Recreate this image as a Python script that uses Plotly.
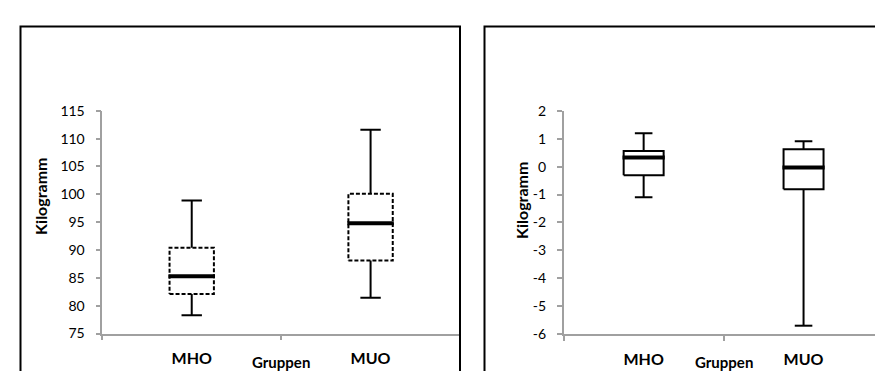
import plotly.graph_objects as go

# ---------------- data ----------------
groups = ["MHO", "MUO"]

# left panel: Kilogramm
w_min = [78.3, 81.4]
w_q1 = [82.1, 88.1]
w_med = [85.3, 94.8]
w_q3 = [90.4, 100.1]
w_max = [98.9, 111.6]
w_ticks = [75, 80, 85, 90, 95, 100, 105, 110, 115]

# right panel: Kilogramm (change)
d_min = [-1.1, -5.7]
d_q1 = [-0.31, -0.81]
d_med = [0.33, -0.03]
d_q3 = [0.56, 0.62]
d_max = [1.2, 0.91]
d_ticks = [-6, -5, -4, -3, -2, -1, 0, 1, 2]
d_tick_labels = ["-6", "-5", "-4", "-3", "-2", "-1", "0", "1", "2"]

y_title = "Kilogramm"
x_title = "Gruppen"

# ---------------- helpers ----------------
W, H = 883, 371
FONT = "Lato"
AX = "#A0A0A0"


def px(x):
    return x / W


def py(y):
    return 1 - y / H


def box_traces(mins, q1, med, q3, maxs, xaxis, yaxis, dash, half=0.124, cap=0.057, mhalf=0.13):
    traces = []
    n = len(groups)
    wx, wy, cx, cy, bx, by, mx, my = [], [], [], [], [], [], [], []
    for i in range(n):
        wx += [i, i, None, i, i, None]
        wy += [q3[i], maxs[i], None, q1[i], mins[i], None]
        cx += [i - cap, i + cap, None, i - cap, i + cap, None]
        cy += [maxs[i], maxs[i], None, mins[i], mins[i], None]
        bx += [i - half, i + half, i + half, i - half, i - half, None]
        by += [q1[i], q1[i], q3[i], q3[i], q1[i], None]
        mx += [i - mhalf, i + mhalf, None]
        my += [med[i], med[i], None]
    common = dict(mode="lines", xaxis=xaxis, yaxis=yaxis, hoverinfo="skip", showlegend=False)
    traces.append(go.Scatter(x=wx, y=wy, line=dict(color="black", width=2), **common))
    traces.append(go.Scatter(x=cx, y=cy, line=dict(color="black", width=2), **common))
    traces.append(go.Scatter(x=bx, y=by, line=dict(color="black", width=2, dash=dash), **common))
    traces.append(go.Scatter(x=mx, y=my, line=dict(color="black", width=4), **common))
    return traces


fig = go.Figure()
for t in box_traces(w_min, w_q1, w_med, w_q3, w_max, "x", "y", "4px,2px"):
    fig.add_trace(t)
for t in box_traces(d_min, d_q1, d_med, d_q3, d_max, "x2", "y2", "solid", half=0.125, cap=0.055, mhalf=0.132):
    fig.add_trace(t)

xa = dict(
    range=[-0.5, len(groups) - 0.5],
    tickmode="array",
    tickvals=list(range(len(groups))),
    ticktext=groups,
    ticks="",
    showline=True,
    linecolor=AX,
    linewidth=1.5,
    showgrid=False,
    zeroline=False,
    tickfont=dict(family=FONT, size=16, color="black", weight="bold"),
    ticklabelstandoff=10,
    minor=dict(
        tickmode="array",
        tickvals=[k - 0.5 for k in range(len(groups) + 1)],
        ticks="outside",
        ticklen=5,
        tickcolor=AX,
        tickwidth=1.5,
        showgrid=False,
    ),
    fixedrange=True,
)
ya = dict(
    showline=True,
    linecolor=AX,
    linewidth=1.5,
    ticks="outside",
    ticklen=5,
    tickcolor=AX,
    tickwidth=1.5,
    showgrid=False,
    zeroline=False,
    tickfont=dict(family=FONT, size=14, color="black"),
    ticklabelstandoff=8,
    fixedrange=True,
)

fig.update_layout(
    width=W,
    height=H,
    margin=dict(l=0, r=0, t=0, b=0),
    paper_bgcolor="white",
    plot_bgcolor="white",
    font=dict(family=FONT, color="black"),
    xaxis=dict(xa, domain=[px(94.3), px(452)], anchor="y"),
    yaxis=dict(ya, domain=[py(331.7), py(98.3)], range=[w_ticks[0], w_ticks[-1]],
               tickmode="array", tickvals=w_ticks, ticktext=[str(v) for v in w_ticks], anchor="x"),
    xaxis2=dict(xa, domain=[px(555.7), px(875.5)], anchor="y2"),
    yaxis2=dict(ya, domain=[py(332.3), py(98.3)], range=[d_ticks[0], d_ticks[-1]],
                tickmode="array", tickvals=d_ticks, ticktext=d_tick_labels, anchor="x2"),
    showlegend=False,
)

# panel frames (open at the bottom)
for x0, x1 in [(12.5, 452), (476.5, 877)]:
    fig.add_shape(
        type="path",
        xref="paper",
        yref="paper",
        path=f"M {px(x0)} -0.1 L {px(x0)} {py(10)} L {px(x1)} {py(10)} L {px(x1)} -0.1",
        line=dict(color="black", width=2),
    )

# axis titles
for xc, yc in [(32.5, 188), (513.3, 192.5)]:
    fig.add_annotation(
        x=px(xc), y=py(yc), xref="paper", yref="paper",
        text=f"<b>{y_title}</b>", textangle=-90, showarrow=False,
        font=dict(family=FONT, size=16, color="black"),
        xanchor="center", yanchor="middle",
    )
for xr in ["x", "x2"]:
    fig.add_annotation(
        x=0.5, y=py(362), xref=xr, yref="paper",
        text=f"<b>{x_title}</b>", showarrow=False,
        font=dict(family=FONT, size=15, color="black"),
        xanchor="center", yanchor="middle",
    )

fig.write_html("out.html")
